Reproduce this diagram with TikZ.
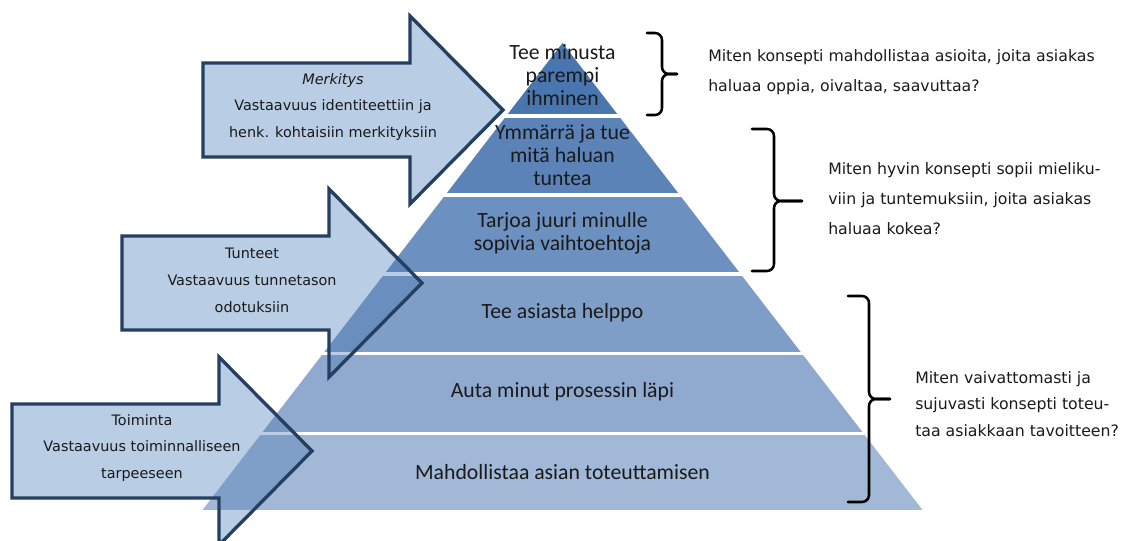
\documentclass[tikz,border=0pt]{standalone}
\usepackage{fontspec}
\setmainfont{Carlito}
\newfontfamily\sidefont{DejaVu Sans}
\usetikzlibrary{positioning}

\definecolor{pyrblue}{HTML}{4A76B0}
\definecolor{arrowfill}{HTML}{B9CDE5}
\definecolor{arrowline}{HTML}{243F60}
\definecolor{inkgray}{HTML}{1A1A1A}

\tikzset{
  layertext/.style={font=\fontsize{16.3}{17.3}\selectfont, align=center, text=inkgray, inner sep=0pt},
  arrowtext/.style={font=\sidefont\fontsize{10.8}{20.2}\selectfont, align=center, text=inkgray, inner sep=0pt},
  sidetext/.style={font=\sidefont\fontsize{11.8}{22.5}\selectfont, align=left, anchor=west, text=inkgray, inner sep=0pt},
  bracket/.style={line width=1.9pt, line cap=round, line join=round},
  arrowbody/.style={fill=arrowfill},
  arrowedge/.style={draw=arrowline, line width=2.5pt},
}

\begin{document}
\begin{tikzpicture}[x=0.75pt, y=-0.75pt]
    \useasboundingbox (0,0) rectangle (1125,541);

    % arrow fills, under the pyramid
    \foreach \x/\y in {203/110, 122/283, 12/451} {
        \fill[arrowbody] (\x,\y-47) -- ++(207,0) -- ++(0,-47) -- ++(93,94) -- ++(-93,94) -- ++(0,-47) -- ++(-207,0) -- cycle;
    }

    % pyramid layers
    \foreach \t/\b/\op in {43/114/1, 119/193/0.9, 198/272/0.81, 277/352/0.71, 356/432/0.62, 436/510/0.52} {
        \begin{scope}
            \clip (0,\t) rectangle (1125,\b);
            \fill[pyrblue, opacity=\op] (562.5,43) -- (922.5,510) -- (202.5,510) -- cycle;
        \end{scope}
    }

    % arrow outlines on top
    \foreach \x/\y in {203/110, 122/283, 12/451} {
        \draw[arrowedge] (\x,\y-47) -- ++(207,0) -- ++(0,-47) -- ++(93,94) -- ++(-93,94) -- ++(0,-47) -- ++(-207,0) -- cycle;
    }

    \node[arrowtext] (merk) at (333,107) {\textit{Merkitys}\\Vastaavuus identiteettiin ja\\henk. kohtaisiin merkityksiin};
    \node[arrowtext] (tunt) at (252,280) {Tunteet\\Vastaavuus tunnetason\\odotuksiin};
    \node[arrowtext] (toim) at (142,448) {Toiminta\\Vastaavuus toiminnalliseen\\tarpeeseen};

    \node[layertext] (l1) at (562.5,75) {Tee minusta\\parempi\\ihminen};
    \node[layertext] (l2) at (562.5,155) {Ymmärrä ja tue\\mitä haluan\\tuntea};
    \node[layertext] (l3) at (562.5,233) {Tarjoa juuri minulle\\sopivia vaihtoehtoja};
    \node[layertext] (l4) at (562.5,313) {Tee asiasta helppo};
    \node[layertext] (l5) at (562.5,392) {Auta minut prosessin läpi};
    \node[layertext] (l6) at (562.5,472) {Mahdollistaa asian toteuttamisen};

    % braces
    \foreach \l/\v/\tp/\t/\m/\b in {647/662/677/33/74/115, 752/774/802/129/201/271, 848/869/890/296/399/502} {
        \draw[bracket] (\l,\t) -- (\v-7,\t) arc[start angle=-90, end angle=0, radius=7] -- (\v,\m-7) arc[start angle=180, end angle=90, radius=7] -- (\tp,\m);
        \draw[bracket] (\tp,\m) -- (\v+7,\m) arc[start angle=270, end angle=180, radius=7] -- (\v,\b-7) arc[start angle=0, end angle=90, radius=7] -- (\l,\b);
    }

    \node[sidetext] (q1) at (708,72) {Miten konsepti mahdollistaa asioita, joita asiakas\\haluaa oppia, oivaltaa, saavuttaa?};
    \node[sidetext] (q2) at (828,199) {Miten hyvin konsepti sopii mieliku-\\viin ja tuntemuksiin, joita asiakas\\haluaa kokea?};
    \node[sidetext, font=\sidefont\fontsize{11.8}{19.9}\selectfont] (q3) at (915,404) {Miten vaivattomasti ja\\sujuvasti konsepti toteu-\\taa asiakkaan tavoitteen?};
\end{tikzpicture}
\end{document}
